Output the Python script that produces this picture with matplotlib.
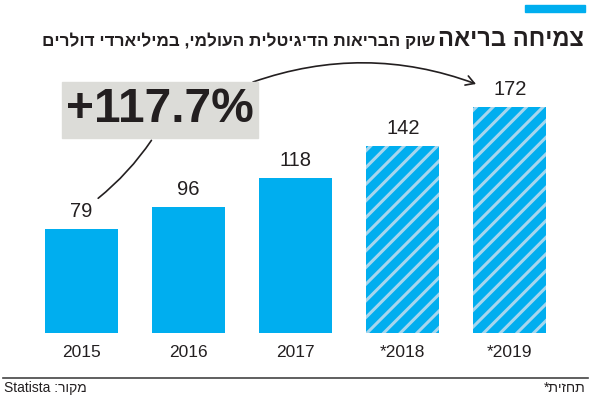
import matplotlib
matplotlib.use("Agg")
import matplotlib.pyplot as plt
from matplotlib.patches import FancyArrowPatch, Rectangle

plt.rcParams['font.family'] = ['Liberation Sans', 'DejaVu Sans']
plt.rcParams['hatch.linewidth'] = 2.2
plt.rcParams['hatch.color'] = '#a6d6ee'

# data
years = ['2015', '2016', '2017', '*2018', '*2019']
values = [79, 96, 118, 142, 172]
forecast = [False, False, False, True, True]
growth_label = '+117.7%'

# Hebrew strings (visual order, matplotlib has no bidi)
title_big = 'צמיחה בריאה'[::-1]
title_small = 'שוק הבריאות הדיגיטלית העולמי, במיליארדי דולרים'[::-1]
source_txt = 'Statista :' + 'מקור'[::-1]
note_txt = '*' + 'תחזית'[::-1]

BLUE = '#00aeef'
W, H = 590, 395

fig = plt.figure(figsize=(W / 100, H / 100), dpi=100)
ax = fig.add_axes([0, 0, 1, 1])
ax.set_xlim(-0.761, 4.748)
ax.set_ylim(-47.1, 253)
ax.axis('off')

x = list(range(len(values)))
for xi, v, f in zip(x, values, forecast):
    if f:
        ax.bar(xi, v, width=0.68, color=BLUE, hatch='//', edgecolor='#a6d6ee', linewidth=0)
    else:
        ax.bar(xi, v, width=0.68, color=BLUE, linewidth=0)
    ax.text(xi, v + 6, str(v), ha='center', va='bottom', fontsize=14.5, color='#231f20')
    ax.text(xi, -9, years[xi], ha='center', va='top', fontsize=12.5, color='#231f20')


def fx(px):
    return px / W


def fy(py):
    return 1 - py / H


def fit(txt, width_px):
    # shrink a text until it is no wider than width_px
    fig.canvas.draw()
    w = txt.get_window_extent().width
    if w > width_px:
        txt.set_fontsize(txt.get_fontsize() * width_px / w)


# top accent bar
fig.patches.append(Rectangle((fx(525), fy(12)), fx(60), 7 / H, transform=fig.transFigure,
                             color=BLUE, zorder=5))

# title
t1 = fig.text(fx(584), fy(40), title_big, ha='right', va='center', fontsize=22,
              fontweight='bold', color='#231f20')
fit(t1, 146)
fig.canvas.draw()
bb = t1.get_window_extent()
t2 = fig.text(bb.x0 / W - 0.005, fy(41), title_small, ha='right', va='center', fontsize=14,
              fontweight='bold', color='#231f20')
fit(t2, 392)

# growth box
fig.patches.append(Rectangle((fx(62), fy(138)), fx(196), 56 / H, transform=fig.transFigure,
                             color='#dcdcd8', zorder=2))
t3 = fig.text(fx(160), fy(110), growth_label, ha='center', va='center', fontsize=36,
              fontweight='bold', color='#231f20', zorder=3)
fit(t3, 188)

# connectors
fig.patches.append(FancyArrowPatch((fx(153), fy(138)), (fx(96), fy(200)),
                                   transform=fig.transFigure, arrowstyle='-',
                                   connectionstyle='arc3,rad=-0.08', color='#231f20', lw=1.2))
fig.patches.append(FancyArrowPatch((fx(253), fy(82)), (fx(476), fy(84)),
                                   transform=fig.transFigure, arrowstyle='->,head_length=6,head_width=3.5',
                                   connectionstyle='arc3,rad=-0.18', color='#231f20', lw=1.2,
                                   shrinkA=0, shrinkB=0))

# footer
fig.add_artist(plt.Line2D([fx(3), fx(588)], [fy(378), fy(378)], transform=fig.transFigure,
                          color='#444444', lw=1.2))
fig.text(fx(4), fy(388), source_txt, ha='left', va='center', fontsize=10, color='#231f20')
fig.text(fx(586), fy(388), note_txt, ha='right', va='center', fontsize=10, color='#231f20')

fig.savefig('out.png', dpi=100)
